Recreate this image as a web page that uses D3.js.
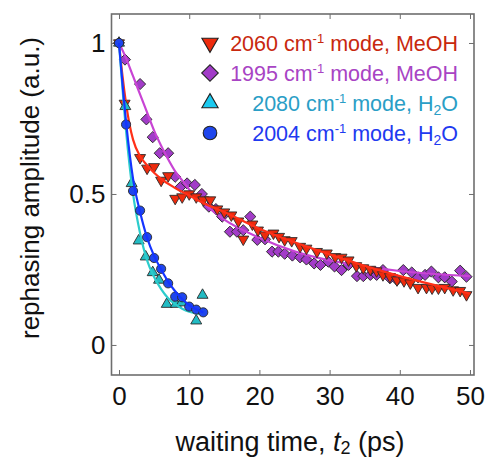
<!DOCTYPE html>
<html>
<head>
<meta charset="utf-8">
<script src="https://cdn.jsdelivr.net/npm/d3@7/dist/d3.min.js"></script>
<style>
  body { margin: 0; background: #fff; }
  svg { display: block; font-family: "Liberation Sans", Arial, sans-serif; }
</style>
</head>
<body>
<div id="root"></div>
<script>
// ---- data ----
const redT = [0, 0.8, 3, 4, 5, 6, 7, 8, 9, 10, 11, 12, 13, 14, 15, 16, 17, 17.7, 19, 19.8, 20.8, 22, 22.8, 23.6, 24.6, 25.8, 26.7, 28.2, 29.6, 30.8, 31.7, 32.7, 33.8, 34.8, 35.8, 36.7, 37.6, 38.6, 39.6, 40.6, 41.5, 42.6, 43.8, 44.6, 45.5, 46.4, 47.6, 48.6, 49.5];
const redA = [1.0, 0.80, 0.62, 0.585, 0.59, 0.545, 0.56, 0.485, 0.49, 0.50, 0.49, 0.48, 0.48, 0.45, 0.44, 0.43, 0.41, 0.35, 0.40, 0.38, 0.364, 0.37, 0.359, 0.348, 0.345, 0.326, 0.32, 0.309, 0.304, 0.292, 0.29, 0.281, 0.262, 0.255, 0.25, 0.245, 0.232, 0.226, 0.215, 0.212, 0.205, 0.19, 0.19, 0.188, 0.188, 0.19, 0.182, 0.18, 0.166];

const purpleT = [0, 0.85, 3.0, 3.9, 4.8, 5.8, 7.0, 8.0, 8.8, 9.7, 10.8, 11.8, 12.8, 13.8, 14.7, 15.8, 16.8, 17.7, 18.7, 19.7, 20.8, 21.8, 22.7, 23.6, 24.7, 25.8, 26.7, 27.8, 28.7, 29.8, 30.7, 31.7, 32.7, 33.9, 34.8, 35.8, 36.7, 37.6, 38.6, 39.6, 40.5, 41.7, 42.6, 43.6, 44.5, 45.5, 46.4, 47.4, 48.6, 49.5];
const purpleA = [1.0, 0.945, 0.864, 0.747, 0.688, 0.635, 0.635, 0.557, 0.524, 0.535, 0.53, 0.5, 0.458, 0.45, 0.425, 0.375, 0.375, 0.38, 0.425, 0.348, 0.35, 0.309, 0.309, 0.302, 0.296, 0.29, 0.283, 0.27, 0.265, 0.276, 0.26, 0.248, 0.265, 0.228, 0.228, 0.232, 0.232, 0.248, 0.221, 0.215, 0.248, 0.24, 0.224, 0.232, 0.243, 0.224, 0.224, 0.21, 0.246, 0.226];

const cyanT = [0, 0.9, 1.8, 2.8, 3.8, 4.8, 5.7, 6.8, 8.1, 8.9, 11, 11.9];
const cyanA = [1.0, 0.79, 0.535, 0.345, 0.292, 0.24, 0.215, 0.135, 0.135, 0.14, 0.08, 0.165];

const blueT = [0, 1, 2, 3, 4, 5, 6, 7, 8, 9, 10, 11, 12];
const blueA = [1.0, 0.73, 0.51, 0.445, 0.357, 0.288, 0.252, 0.204, 0.16, 0.158, 0.127, 0.117, 0.108];

// fitted curves, sampled from the figure
const redFitT = [0, 0.5, 1, 1.5, 2, 3, 4, 5, 6, 8, 10, 12, 15, 20, 25, 30, 35, 40, 45, 50];
const redFitA = [1.0, 0.89, 0.8, 0.73, 0.68, 0.625, 0.595, 0.57, 0.55, 0.52, 0.495, 0.47, 0.44, 0.385, 0.34, 0.3, 0.262, 0.228, 0.198, 0.17];
const purpleFitT = [0, 1, 2, 3, 4, 5, 6, 7, 8, 9, 10, 12, 15, 20, 25, 30, 35, 40, 45, 50];
const purpleFitA = [1.0, 0.95, 0.89, 0.83, 0.77, 0.71, 0.66, 0.615, 0.575, 0.545, 0.515, 0.47, 0.415, 0.355, 0.31, 0.28, 0.26, 0.245, 0.235, 0.228];
const cyanFitT = [0, 1, 2, 3, 4, 5, 6, 7, 8, 9, 10, 11, 12];
const cyanFitA = [1.0, 0.71, 0.5, 0.37, 0.28, 0.225, 0.185, 0.155, 0.135, 0.12, 0.11, 0.105, 0.1];
const blueFitT = [0, 1, 2, 3, 4, 5, 6, 7, 8, 9, 10, 11, 12];
const blueFitA = [1.0, 0.74, 0.55, 0.44, 0.355, 0.295, 0.25, 0.21, 0.178, 0.152, 0.132, 0.118, 0.108];

const xTicks = [0, 10, 20, 30, 40, 50];
const yTicks = [0, 0.5, 1];

const series = [
  {name: "1995", solvent: "MeOH", t: purpleT, a: purpleA, fitT: purpleFitT, fitA: purpleFitA,
   shape: "diamond", fill: "#a23cc8", line: "#c844d4", text: "#a844c4"},
  {name: "2060", solvent: "MeOH", t: redT, a: redA, fitT: redFitT, fitA: redFitA,
   shape: "down", fill: "#ee2a0c", line: "#ff3018", text: "#c8280e"},
  {name: "2080", solvent: "H2O", t: cyanT, a: cyanA, fitT: cyanFitT, fitA: cyanFitA,
   shape: "up", fill: "#22bcc4", line: "#2ccccc", text: "#2a9ec6"},
  {name: "2004", solvent: "H2O", t: blueT, a: blueA, fitT: blueFitT, fitA: blueFitA,
   shape: "circle", fill: "#1f46ec", line: "#1434ff", text: "#1e3af0"}
];
const legendOrder = ["2060", "1995", "2080", "2004"];

// ---- layout ----
const width = 486, height = 460;
const mLeft = 111.5, mRight = 474, mTop = 14, mBottom = 375;

const svg = d3.select('#root').append('svg')
  .attr('width', width)
  .attr('height', height);

const x = d3.scaleLinear().domain([-1.07, 50.57]).range([mLeft, mRight]);
const y = d3.scaleLinear().domain([-0.0995, 1.096]).range([mBottom, mTop]);

function symbolPath(shape, big) {
  let k = big ? 2.2 : 1;
  if (shape === "circle") return d3.symbol(d3.symbolCircle, 66 * k)();
  if (shape === "diamond") return d3.symbol(d3.symbolSquare, 62 * k)();
  return d3.symbol(d3.symbolTriangle, 52 * k)();
}
function symbolRotate(shape) {
  if (shape === "diamond") return 45;
  if (shape === "down") return 180;
  return 0;
}

// axes (ticks inside, matlab style)
const axisColor = "#6e6e6e";
const gx = svg.append('g').attr('transform', 'translate(0,' + mBottom + ')')
  .call(d3.axisBottom(x).tickValues(xTicks).tickSize(-5).tickPadding(12).tickFormat(d3.format('d')));
const gxt = svg.append('g').attr('transform', 'translate(0,' + mTop + ')')
  .call(d3.axisTop(x).tickValues(xTicks).tickSize(-5).tickFormat(''));
const gy = svg.append('g').attr('transform', 'translate(' + mLeft + ',0)')
  .call(d3.axisLeft(y).tickValues(yTicks).tickSize(-5).tickPadding(6).tickFormat(d => d));
const gyr = svg.append('g').attr('transform', 'translate(' + mRight + ',0)')
  .call(d3.axisRight(y).tickValues(yTicks).tickSize(-5).tickFormat(''));

[gx, gxt, gy, gyr].forEach(g => {
  g.select('.domain').remove();
  g.selectAll('.tick line').attr('stroke', axisColor).attr('stroke-width', 1);
  g.selectAll('.tick text').attr('fill', '#111').style('font-size', '26px')
   .style('font-family', '"Liberation Sans", Arial, sans-serif');
});

svg.append('rect')
  .attr('x', mLeft).attr('y', mTop)
  .attr('width', mRight - mLeft).attr('height', mBottom - mTop)
  .attr('fill', 'none').attr('stroke', axisColor).attr('stroke-width', 1.6);

// data
const plot = svg.append('g');
const lineGen = d3.line().x(d => x(d[0])).y(d => y(d[1])).curve(d3.curveMonotoneX);

series.forEach(s => {
  const pts = s.t.map((t, i) => [t, s.a[i]]);
  const fit = s.fitT.map((t, i) => [t, s.fitA[i]]);

  plot.append('g').selectAll('path')
    .data(pts)
    .enter().append('path')
    .attr('d', symbolPath(s.shape, false))
    .attr('transform', d => 'translate(' + x(d[0]) + ',' + y(d[1]) + ') rotate(' + symbolRotate(s.shape) + ')')
    .attr('fill', s.fill)
    .attr('stroke', '#2a2a2a')
    .attr('stroke-width', 0.9);

  plot.append('path')
    .datum(fit)
    .attr('d', lineGen)
    .attr('fill', 'none')
    .attr('stroke', s.line)
    .attr('stroke-width', 2.2);
});

// legend
const legend = svg.append('g');
legendOrder.forEach((name, i) => {
  const s = series.find(d => d.name === name);
  const cy = 43 + i * 30;
  legend.append('path')
    .attr('d', symbolPath(s.shape, true))
    .attr('transform', 'translate(210,' + cy + ') rotate(' + symbolRotate(s.shape) + ')')
    .attr('fill', s.shape === "up" ? "#1ccaf0" : s.fill)
    .attr('stroke', '#222')
    .attr('stroke-width', 1.1);

  const txt = legend.append('text')
    .attr('x', 458).attr('y', cy + 8)
    .attr('text-anchor', 'end')
    .attr('fill', s.text)
    .style('font-size', '21.5px');
  txt.append('tspan').text(s.name + ' cm');
  txt.append('tspan').text('-1').style('font-size', '13px').attr('dy', -8);
  txt.append('tspan').text(' mode, ').attr('dy', 8);
  if (s.solvent === "H2O") {
    txt.append('tspan').text('H');
    txt.append('tspan').text('2').style('font-size', '14px').attr('dy', 4);
    txt.append('tspan').text('O').attr('dy', -4);
  } else {
    txt.append('tspan').text('MeOH');
  }
});

// axis titles
const xl = svg.append('text')
  .attr('x', 290).attr('y', 451)
  .attr('text-anchor', 'middle')
  .attr('fill', '#111')
  .style('font-size', '27px');
xl.append('tspan').text('waiting time, ');
xl.append('tspan').text('t').style('font-style', 'italic');
xl.append('tspan').text('2').style('font-size', '18px').attr('dy', 3);
xl.append('tspan').text(' (ps)').attr('dy', -3);

svg.append('text')
  .attr('transform', 'translate(39,188) rotate(-90)')
  .attr('text-anchor', 'middle')
  .attr('fill', '#111')
  .style('font-size', '26px')
  .text('rephasing amplitude (a.u.)');
</script>
</body>
</html>
